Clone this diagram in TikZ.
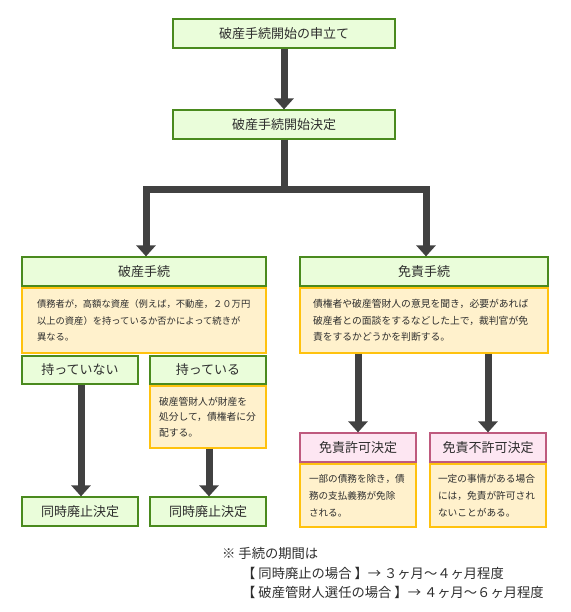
\documentclass[tikz,border=0pt]{standalone}
\usepackage{fontspec}
\setmainfont{Noto Sans CJK JP}
\usetikzlibrary{arrows.meta}
\definecolor{gborder}{HTML}{4A8A1E}
\definecolor{gfill}{HTML}{EAFDDA}
\definecolor{yborder}{HTML}{FFC20E}
\definecolor{yfill}{HTML}{FFF1CC}
\definecolor{pborder}{HTML}{BE5A7E}
\definecolor{pfill}{HTML}{FDE6F2}
\definecolor{arr}{HTML}{414141}
\definecolor{txt}{HTML}{2E2E2E}
\begin{document}
\begin{tikzpicture}[x=1pt,y=-1pt,
  box/.style={draw, line width=1.2pt, inner sep=0pt, text=txt, font=\fontsize{13}{15}\selectfont},
  gbox/.style={box, draw=gborder, fill=gfill},
  pbox/.style={box, draw=pborder, fill=pfill},
  ybox/.style={draw=yborder, fill=yfill, line width=1.2pt, text=txt, align=left, inner ysep=0pt},
  conn/.style={draw=arr, line width=7pt, line join=miter, -{Triangle[width=19pt,length=11pt]}},
  note/.style={anchor=west, inner sep=0pt, text=txt, font=\fontsize{13.3}{15}\selectfont}
]
\fill[white] (0,0) rectangle (570,612);
\useasboundingbox (0,0) rectangle (570,612);

% top chain
\node[gbox, minimum width=222pt, minimum height=29pt] (A) at (284,33.5) {破産手続開始の申立て};
\node[gbox, minimum width=222pt, minimum height=29pt] (B) at (284,124.5) {破産手続開始決定};

% second level
\node[gbox, minimum width=244pt, minimum height=29pt] (C) at (144,271.5) {破産手続};
\node[ybox, font=\fontsize{9.3}{16.5}\selectfont, minimum width=244pt, minimum height=65pt, inner xsep=15pt, text width=214pt] (D) at (144,320.5)
  {債務者が，高額な資産（例えば，不動産，２０万円\\以上の資産）を持っているか否かによって続きが\\異なる。};
\node[gbox, minimum width=248pt, minimum height=29pt] (E) at (424,271.5) {免責手続};
\node[ybox, font=\fontsize{9.8}{16.5}\selectfont, minimum width=248pt, minimum height=65pt, inner xsep=13pt, text width=222pt] (F) at (424,320.5)
  {債権者や破産管財人の意見を聞き，必要があれば\\破産者との面談をするなどした上で，裁判官が免\\責をするかどうかを判断する。};

% left branch
\node[gbox, minimum width=116pt, minimum height=28pt] (G) at (80,370) {持っていない};
\node[gbox, minimum width=116pt, minimum height=28pt] (H) at (208,370) {持っている};
\node[ybox, font=\fontsize{9.8}{15.5}\selectfont, minimum width=116pt, minimum height=62pt, inner xsep=9pt, text width=98pt] (I) at (208,417)
  {破産管財人が財産を\\処分して，債権者に分\\配する。};
\node[gbox, minimum width=116pt, minimum height=29pt] (J) at (80,511.5) {同時廃止決定};
\node[gbox, minimum width=116pt, minimum height=29pt] (K) at (208,511.5) {同時廃止決定};

% right branch
\node[pbox, minimum width=116pt, minimum height=29pt] (L) at (358,447.5) {免責許可決定};
\node[ybox, font=\fontsize{9.6}{17}\selectfont, minimum width=116pt, minimum height=63pt, inner xsep=9pt, text width=98pt] (M) at (358,495.5)
  {一部の債務を除き，債\\務の支払義務が免除\\される。};
\node[pbox, minimum width=116pt, minimum height=29pt] (N) at (488,447.5) {免責不許可決定};
\node[ybox, font=\fontsize{9.7}{17}\selectfont, minimum width=116pt, minimum height=63pt, inner xsep=8pt, text width=100pt] (O) at (488,495.5)
  {一定の事情がある場合\\には，免責が許可され\\ないことがある。};

% connectors
\coordinate (bar) at (284,189.5);
\draw[conn] (A.south) -- (B.north);
\draw[conn] (B.south) -- (B.south |- bar) -| ([xshift=2pt]C.north);
\draw[conn] (B.south) -- (B.south |- bar) -| ([xshift=2pt]E.north);
\draw[conn] ([xshift=1pt]G.south) -- ([xshift=1pt]J.north);
\draw[conn] ([xshift=1pt]I.south) -- ([xshift=1pt]K.north);
\draw[conn] (F.south -| L.north) -- (L.north);
\draw[conn] (F.south -| N.north) -- (N.north);

% notes
\node[note] (n1) at (222,553) {※ 手続の期間は};
\node[note] (n2) at (242,573) {【 同時廃止の場合 】→ ３ヶ月～４ヶ月程度};
\node[note] (n3) at (242,592) {【 破産管財人選任の場合 】→ ４ヶ月～６ヶ月程度};
\end{tikzpicture}
\end{document}
